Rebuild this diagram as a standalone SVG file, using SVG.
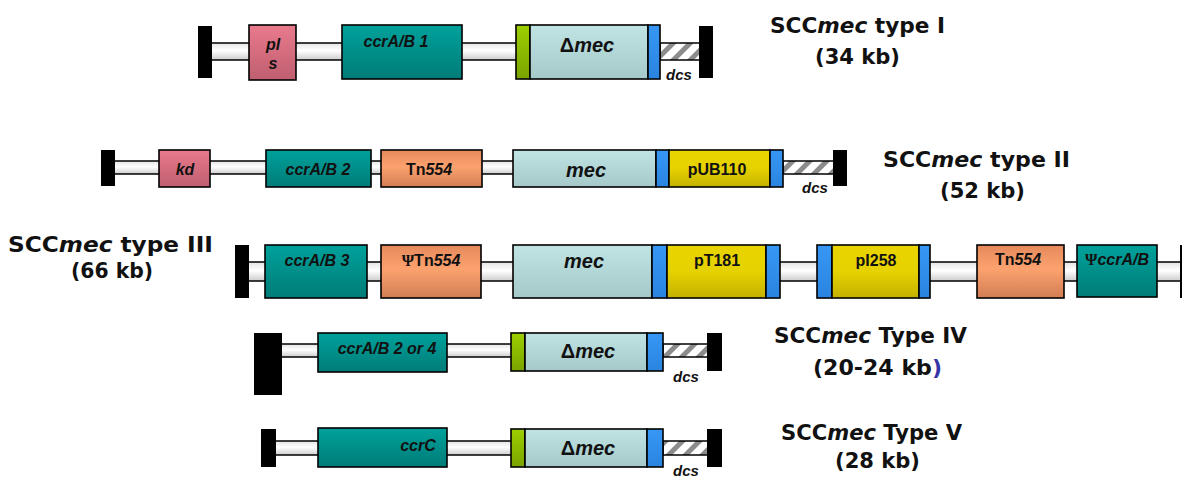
<svg xmlns="http://www.w3.org/2000/svg" width="1182" height="477" viewBox="0 0 1182 477">
<defs>
<linearGradient id="gGrey" x1="0" y1="0" x2="0" y2="1"><stop offset="0" stop-color="#e4e4e4"/><stop offset="0.45" stop-color="#ffffff"/><stop offset="1" stop-color="#cdcdcd"/></linearGradient>
<linearGradient id="gPink" x1="0" y1="0" x2="0" y2="1"><stop offset="0" stop-color="#e97a8c"/><stop offset="1" stop-color="#bf5f70"/></linearGradient>
<linearGradient id="gTeal" x1="0" y1="0" x2="0" y2="1"><stop offset="0" stop-color="#00a19b"/><stop offset="1" stop-color="#007c78"/></linearGradient>
<linearGradient id="gOrange" x1="0" y1="0" x2="0" y2="1"><stop offset="0" stop-color="#e5895c"/><stop offset="0.45" stop-color="#fca26e"/><stop offset="1" stop-color="#d27d54"/></linearGradient>
<linearGradient id="gLblue" x1="0" y1="0" x2="0" y2="1"><stop offset="0" stop-color="#c0e3e4"/><stop offset="1" stop-color="#a5c8c9"/></linearGradient>
<linearGradient id="gYellow" x1="0" y1="0" x2="0" y2="1"><stop offset="0" stop-color="#e9d400"/><stop offset="0.5" stop-color="#e6d200"/><stop offset="1" stop-color="#c4b100"/></linearGradient>
<linearGradient id="gBlue" x1="0" y1="0" x2="0" y2="1"><stop offset="0" stop-color="#3797f5"/><stop offset="1" stop-color="#2a84e0"/></linearGradient>
<linearGradient id="gGreen" x1="0" y1="0" x2="0" y2="1"><stop offset="0" stop-color="#9ccf00"/><stop offset="1" stop-color="#7ba300"/></linearGradient>
<pattern id="hatch" patternUnits="userSpaceOnUse" width="12" height="12" patternTransform="rotate(45)">
<rect x="0" y="0" width="12" height="12" fill="#ffffff"/>
<rect x="0" y="0" width="5" height="12" fill="#8c8c8c"/>
</pattern>
<style>
.bar{fill:#000}
.bb{fill:url(#gGrey);stroke:#000;stroke-width:1.5}
.hz{fill:url(#hatch);stroke:#000;stroke-width:1.5}
.box{stroke:#000;stroke-width:1.6}
.pink{fill:url(#gPink)}
.teal{fill:url(#gTeal)}
.orange{fill:url(#gOrange)}
.lblue{fill:url(#gLblue)}
.yellow{fill:url(#gYellow)}
.blue{fill:url(#gBlue)}
.green{fill:url(#gGreen)}
.gt{font-family:"Liberation Sans",Arial,sans-serif;font-weight:bold;font-style:italic;font-size:16px;fill:#111;text-anchor:middle}
.up{font-style:normal}
.psi{font-family:"Liberation Serif","Times New Roman",serif;font-style:normal}
.mec{font-size:20px}
.dcs{font-family:"Liberation Sans",Arial,sans-serif;font-weight:bold;font-style:italic;font-size:15px;fill:#111}
.lab{font-family:"DejaVu Sans",sans-serif;font-weight:bold;font-size:21px;fill:#111;text-anchor:middle}
.it{font-style:italic}
</style>
</defs>

<g id="connectors">
<rect class="bb" x="211" y="43" width="306" height="17"/>
<rect class="hz" x="660" y="43" width="40" height="17"/>
<rect class="bb" x="114" y="161" width="400" height="13"/>
<rect class="hz" x="783" y="161" width="51" height="13"/>
<rect class="bb" x="248" y="262" width="940" height="19"/>
<rect class="bb" x="281" y="344" width="231" height="13"/>
<rect class="hz" x="663" y="344" width="45" height="13"/>
<rect class="bb" x="275" y="441" width="237" height="14"/>
<rect class="hz" x="663" y="441" width="45" height="14"/>
</g>

<g id="type1">
<rect class="bar" x="198" y="26" width="14" height="52"/>
<g id="t1-pls"><rect class="box pink" x="249" y="25" width="47" height="55"/><text class="gt" x="273" y="50">pl</text><text class="gt" x="273" y="69">s</text></g>
<g id="t1-ccr"><rect class="box teal" x="342" y="25" width="120" height="54"/><text class="gt" x="396" y="47">ccrA/B 1</text></g>
<g id="t1-green"><rect class="box green" x="516" y="25" width="14" height="54"/></g>
<g id="t1-mec"><rect class="box lblue" x="530" y="25" width="118" height="54"/><text class="gt mec" x="587" y="52"><tspan class="up">Δ</tspan>mec</text></g>
<g id="t1-blue"><rect class="box blue" x="648" y="25" width="12" height="54"/></g>
<rect class="bar" x="699" y="26" width="14" height="52"/>
<text class="dcs" x="666" y="80">dcs</text>
<g id="t1-label"><text class="lab" x="857.5" y="33" textLength="175" lengthAdjust="spacingAndGlyphs">SCC<tspan class="it">mec</tspan> type I</text><text class="lab" x="857.5" y="64" textLength="85" lengthAdjust="spacingAndGlyphs">(34 kb)</text></g>
</g>

<g id="type2">
<rect class="bar" x="101" y="150" width="14" height="36"/>
<g id="t2-kd"><rect class="box pink" x="159" y="150" width="51" height="37"/><text class="gt" x="185" y="175">kd</text></g>
<g id="t2-ccr"><rect class="box teal" x="266" y="150" width="105" height="37"/><text class="gt" x="318" y="175">ccrA/B 2</text></g>
<g id="t2-tn"><rect class="box orange" x="381" y="150" width="101" height="37"/><text class="gt" x="429" y="175"><tspan class="up">Tn</tspan>554</text></g>
<g id="t2-mec"><rect class="box lblue" x="513" y="150" width="143" height="37"/><text class="gt mec" x="586" y="177">mec</text></g>
<g id="t2-blue1"><rect class="box blue" x="656" y="150" width="13" height="37"/></g>
<g id="t2-pub"><rect class="box yellow" x="669" y="150" width="101" height="37"/><text class="gt up" x="717" y="175">pUB110</text></g>
<g id="t2-blue2"><rect class="box blue" x="770" y="150" width="13" height="37"/></g>
<rect class="bar" x="833" y="150" width="14" height="36"/>
<text class="dcs" x="802" y="193">dcs</text>
<g id="t2-label"><text class="lab" x="976.5" y="167" textLength="187" lengthAdjust="spacingAndGlyphs">SCC<tspan class="it">mec</tspan> type II</text><text class="lab" x="982.5" y="198" textLength="85" lengthAdjust="spacingAndGlyphs">(52 kb)</text></g>
</g>

<g id="type3">
<rect class="bar" x="235" y="245" width="14" height="53"/>
<g id="t3-ccr"><rect class="box teal" x="265" y="245" width="102" height="53"/><text class="gt" x="317" y="266">ccrA/B 3</text></g>
<g id="t3-psitn"><rect class="box orange" x="381" y="245" width="100" height="53"/><text class="gt" x="431" y="266"><tspan class="psi">Ψ</tspan><tspan class="up">Tn</tspan>554</text></g>
<g id="t3-mec"><rect class="box lblue" x="513" y="245" width="139" height="53"/><text class="gt mec" x="584" y="268">mec</text></g>
<g id="t3-blue1"><rect class="box blue" x="652" y="245" width="15" height="53"/></g>
<g id="t3-pt181"><rect class="box yellow" x="667" y="245" width="99" height="53"/><text class="gt up" x="717" y="266">pT181</text></g>
<g id="t3-blue2"><rect class="box blue" x="766" y="245" width="14" height="53"/></g>
<g id="t3-blue3"><rect class="box blue" x="817" y="245" width="15" height="53"/></g>
<g id="t3-pi258"><rect class="box yellow" x="832" y="245" width="87" height="53"/><text class="gt up" x="876" y="266">pI258</text></g>
<g id="t3-blue4"><rect class="box blue" x="919" y="245" width="11" height="53"/></g>
<g id="t3-tn"><rect class="box orange" x="977" y="245" width="87" height="53"/><text class="gt" x="1018" y="265"><tspan class="up">Tn</tspan>554</text></g>
<g id="t3-psiccr"><rect class="box teal" x="1077" y="245" width="80" height="52"/><text class="gt" x="1117" y="265"><tspan class="psi">Ψ</tspan>ccrA/B</text></g>
<rect class="bar" x="1180" y="245" width="14" height="53"/>
<g id="t3-label"><text class="lab" x="110.5" y="252" textLength="205" lengthAdjust="spacingAndGlyphs">SCC<tspan class="it">mec</tspan> type III</text><text class="lab" x="112" y="278" textLength="82" lengthAdjust="spacingAndGlyphs">(66 kb)</text></g>
</g>

<g id="type4">
<rect class="bar" x="254" y="333" width="28" height="62"/>
<g id="t4-ccr"><rect class="box teal" x="318" y="333" width="129" height="39"/><text class="gt" x="387" y="354">ccrA/B 2 or 4</text></g>
<g id="t4-green"><rect class="box green" x="511" y="333" width="14" height="38"/></g>
<g id="t4-mec"><rect class="box lblue" x="525" y="333" width="122" height="38"/><text class="gt mec" x="588" y="358"><tspan class="up">Δ</tspan>mec</text></g>
<g id="t4-blue"><rect class="box blue" x="647" y="333" width="16" height="38"/></g>
<rect class="bar" x="707" y="333" width="15" height="38"/>
<text class="dcs" x="673" y="382">dcs</text>
<g id="t4-label"><text class="lab" x="870.5" y="343" textLength="193" lengthAdjust="spacingAndGlyphs">SCC<tspan class="it">mec</tspan> Type IV</text><text class="lab" x="877.5" y="375" textLength="129" lengthAdjust="spacingAndGlyphs">(20-24 kb<tspan fill="#3535a8">)</tspan></text></g>
</g>

<g id="type5">
<rect class="bar" x="261" y="429" width="15" height="38"/>
<g id="t5-ccr"><rect class="box teal" x="318" y="428" width="129" height="39"/><text class="gt" x="418" y="451">ccrC</text></g>
<g id="t5-green"><rect class="box green" x="511" y="429" width="14" height="38"/></g>
<g id="t5-mec"><rect class="box lblue" x="525" y="429" width="122" height="38"/><text class="gt mec" x="588" y="455"><tspan class="up">Δ</tspan>mec</text></g>
<g id="t5-blue"><rect class="box blue" x="647" y="429" width="16" height="38"/></g>
<rect class="bar" x="707" y="429" width="15" height="38"/>
<text class="dcs" x="673" y="476">dcs</text>
<g id="t5-label"><text class="lab" x="871.5" y="440" textLength="181" lengthAdjust="spacingAndGlyphs">SCC<tspan class="it">mec</tspan> Type V</text><text class="lab" x="877.5" y="468" textLength="85" lengthAdjust="spacingAndGlyphs">(28 kb)</text></g>
</g>
</svg>
